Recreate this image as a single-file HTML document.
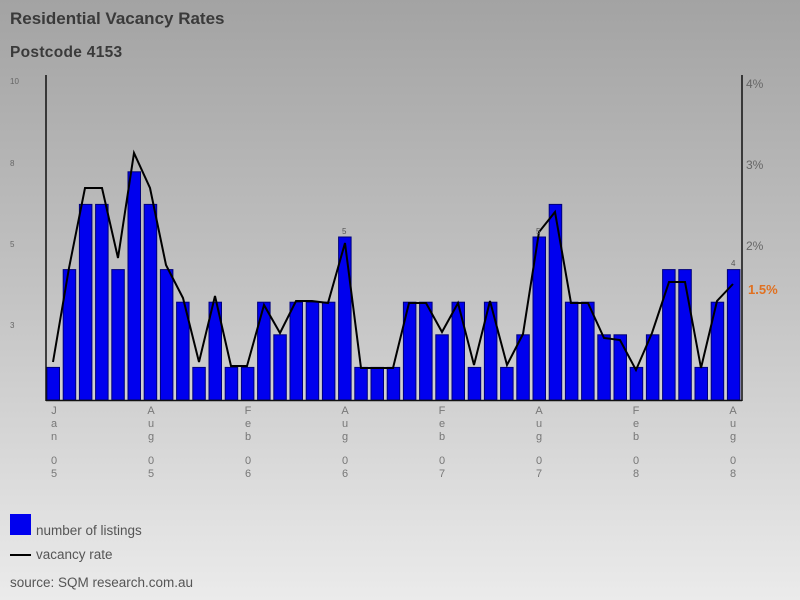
<!DOCTYPE html>
<html><head><style>
body{margin:0;width:800px;height:600px;overflow:hidden;}
svg{display:block}
</style></head><body>
<svg width="800" height="600" xmlns="http://www.w3.org/2000/svg" font-family="Liberation Sans, Verdana, sans-serif">
<defs><linearGradient id="bg" x1="0" y1="0" x2="0" y2="1">
<stop offset="0" stop-color="#a3a3a3"/><stop offset="0.5" stop-color="#c4c4c4"/><stop offset="1" stop-color="#ebebeb"/></linearGradient></defs>
<rect width="800" height="600" fill="url(#bg)"/>
<text x="10" y="24" font-size="17" font-weight="bold" fill="#3a3a3a">Residential Vacancy Rates</text>
<text x="10" y="57" font-size="15.5" font-weight="bold" fill="#3a3a3a" letter-spacing="0.3">Postcode 4153</text>
<g font-size="8" fill="#666">
<text x="10" y="84">10</text><text x="10" y="166">8</text><text x="10" y="247">5</text><text x="10" y="328">3</text>
</g>
<g font-size="12" fill="#666">
<text x="746" y="88">4%</text><text x="746" y="169">3%</text><text x="746" y="250">2%</text>
</g>
<text x="748" y="294" font-size="13" font-weight="bold" fill="#e07020">1.5%</text>
<g fill="#0000ee" stroke="#00007a" stroke-width="1">
<rect x="47" y="367.4" width="12.5" height="32.6"/>
<rect x="63.2" y="269.6" width="12.5" height="130.4"/>
<rect x="79.4" y="204.4" width="12.5" height="195.6"/>
<rect x="95.6" y="204.4" width="12.5" height="195.6"/>
<rect x="111.8" y="269.6" width="12.5" height="130.4"/>
<rect x="128" y="171.8" width="12.5" height="228.2"/>
<rect x="144.2" y="204.4" width="12.5" height="195.6"/>
<rect x="160.4" y="269.6" width="12.5" height="130.4"/>
<rect x="176.6" y="302.2" width="12.5" height="97.8"/>
<rect x="192.8" y="367.4" width="12.5" height="32.6"/>
<rect x="209" y="302.2" width="12.5" height="97.8"/>
<rect x="225.2" y="367.4" width="12.5" height="32.6"/>
<rect x="241.4" y="367.4" width="12.5" height="32.6"/>
<rect x="257.6" y="302.2" width="12.5" height="97.8"/>
<rect x="273.8" y="334.8" width="12.5" height="65.2"/>
<rect x="290" y="302.2" width="12.5" height="97.8"/>
<rect x="306.2" y="302.2" width="12.5" height="97.8"/>
<rect x="322.4" y="302.2" width="12.5" height="97.8"/>
<rect x="338.6" y="237" width="12.5" height="163"/>
<rect x="354.8" y="367.4" width="12.5" height="32.6"/>
<rect x="371" y="367.4" width="12.5" height="32.6"/>
<rect x="387.2" y="367.4" width="12.5" height="32.6"/>
<rect x="403.4" y="302.2" width="12.5" height="97.8"/>
<rect x="419.6" y="302.2" width="12.5" height="97.8"/>
<rect x="435.8" y="334.8" width="12.5" height="65.2"/>
<rect x="452" y="302.2" width="12.5" height="97.8"/>
<rect x="468.2" y="367.4" width="12.5" height="32.6"/>
<rect x="484.4" y="302.2" width="12.5" height="97.8"/>
<rect x="500.6" y="367.4" width="12.5" height="32.6"/>
<rect x="516.8" y="334.8" width="12.5" height="65.2"/>
<rect x="533" y="237" width="12.5" height="163"/>
<rect x="549.2" y="204.4" width="12.5" height="195.6"/>
<rect x="565.4" y="302.2" width="12.5" height="97.8"/>
<rect x="581.6" y="302.2" width="12.5" height="97.8"/>
<rect x="597.8" y="334.8" width="12.5" height="65.2"/>
<rect x="614" y="334.8" width="12.5" height="65.2"/>
<rect x="630.2" y="367.4" width="12.5" height="32.6"/>
<rect x="646.4" y="334.8" width="12.5" height="65.2"/>
<rect x="662.6" y="269.6" width="12.5" height="130.4"/>
<rect x="678.8" y="269.6" width="12.5" height="130.4"/>
<rect x="695" y="367.4" width="12.5" height="32.6"/>
<rect x="711.2" y="302.2" width="12.5" height="97.8"/>
<rect x="727.4" y="269.6" width="12.5" height="130.4"/>
</g>
<polyline fill="none" stroke="#000" stroke-width="2" points="53,362 69,268 85,188 102,188 118,258 134,153 150,188 166,265 183,298 199,362 215,296 231,366 247,366 264,305 280,333 296,301 312,301 328,303 345,243 361,368 377,368 393,368 409,303 426,303 442,332 458,303 474,365 490,301 507,365 523,334 539,232 555,212 571,303 588,303 604,338 620,340 636,370 652,333 669,282 685,282 701,368 717,301 733,284"/>
<g font-size="8" fill="#555">
<text x="342" y="234">5</text><text x="536" y="234">5</text><text x="731" y="266">4</text>
</g>
<line x1="46" y1="75" x2="46" y2="401" stroke="#111" stroke-width="1.5"/>
<line x1="742" y1="75" x2="742" y2="401" stroke="#111" stroke-width="1.5"/>
<line x1="46" y1="400.5" x2="742" y2="400.5" stroke="#111" stroke-width="1.5"/>
<g font-size="11" fill="#777" text-anchor="middle">
<text><tspan x="54" y="414">J</tspan><tspan x="54" y="427">a</tspan><tspan x="54" y="440">n</tspan><tspan x="54" y="464">0</tspan><tspan x="54" y="477">5</tspan></text>
<text><tspan x="151" y="414">A</tspan><tspan x="151" y="427">u</tspan><tspan x="151" y="440">g</tspan><tspan x="151" y="464">0</tspan><tspan x="151" y="477">5</tspan></text>
<text><tspan x="248" y="414">F</tspan><tspan x="248" y="427">e</tspan><tspan x="248" y="440">b</tspan><tspan x="248" y="464">0</tspan><tspan x="248" y="477">6</tspan></text>
<text><tspan x="345" y="414">A</tspan><tspan x="345" y="427">u</tspan><tspan x="345" y="440">g</tspan><tspan x="345" y="464">0</tspan><tspan x="345" y="477">6</tspan></text>
<text><tspan x="442" y="414">F</tspan><tspan x="442" y="427">e</tspan><tspan x="442" y="440">b</tspan><tspan x="442" y="464">0</tspan><tspan x="442" y="477">7</tspan></text>
<text><tspan x="539" y="414">A</tspan><tspan x="539" y="427">u</tspan><tspan x="539" y="440">g</tspan><tspan x="539" y="464">0</tspan><tspan x="539" y="477">7</tspan></text>
<text><tspan x="636" y="414">F</tspan><tspan x="636" y="427">e</tspan><tspan x="636" y="440">b</tspan><tspan x="636" y="464">0</tspan><tspan x="636" y="477">8</tspan></text>
<text><tspan x="733" y="414">A</tspan><tspan x="733" y="427">u</tspan><tspan x="733" y="440">g</tspan><tspan x="733" y="464">0</tspan><tspan x="733" y="477">8</tspan></text>
</g>
<rect x="10" y="514" width="21" height="21" fill="#0000ee"/>
<text x="36" y="535" font-size="13.5" fill="#555">number of listings</text>
<line x1="10" y1="555" x2="31" y2="555" stroke="#000" stroke-width="2"/>
<text x="36" y="559" font-size="13.5" fill="#555">vacancy rate</text>
<text x="10" y="587" font-size="13.5" fill="#555">source: SQM research.com.au</text>
</svg>
</body></html>
